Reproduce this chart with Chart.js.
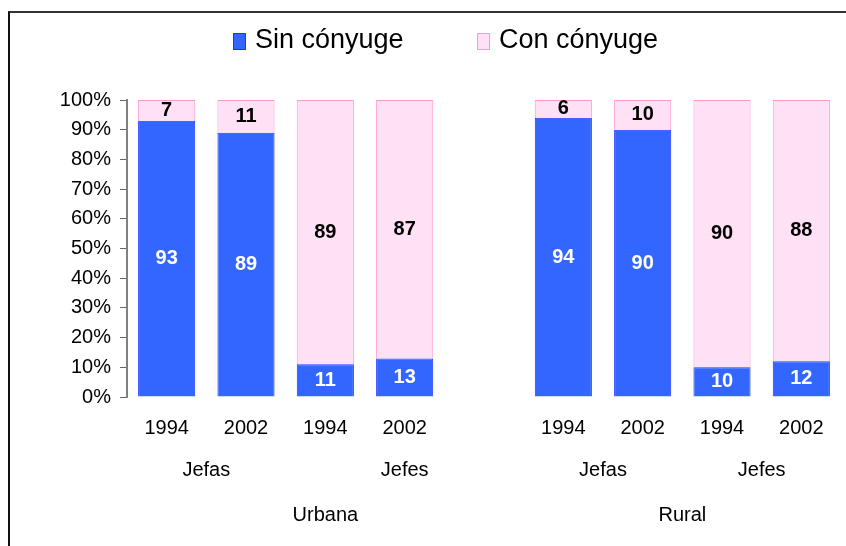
<!DOCTYPE html>
<html>
<head>
<meta charset="utf-8">
<script src="https://cdn.jsdelivr.net/npm/chart.js@4.4.1/dist/chart.umd.min.js"></script>
<style>
  html, body { margin: 0; padding: 0; background: #fff; overflow: hidden; }
  #wrap { position: relative; width: 846px; height: 546px; }
  #frame { position: absolute; left: 8px; top: 11px; width: 900px; height: 600px;
           border-top: 2px solid #333; border-left: 2px solid #111; }
  #myChart { position: absolute; left: 0; top: 0; }
</style>
</head>
<body>
<div id="wrap">
  <div id="frame"></div>
  <canvas id="myChart" width="846" height="546"></canvas>
</div>
<script>
// years per bar, empty slot splits Urbana / Rural
var years = ['1994', '2002', '1994', '2002', '', '1994', '2002', '1994', '2002'];
var sinConyuge = [93, 89, 11, 13, null, 94, 90, 10, 12];
var conConyuge = [7, 11, 89, 87, null, 6, 10, 90, 88];
var yTicks = [0, 10, 20, 30, 40, 50, 60, 70, 80, 90, 100];
var seriesNames = ['Sin cónyuge', 'Con cónyuge'];
// second and third label rows (category indexes they sit under)
var sexLabels = ['Jefas', 'Jefes', 'Jefas', 'Jefes'];
var sexAt = [[0, 1], [3, 3], [5, 6], [7, 8]];
var areaLabels = ['Urbana', 'Rural'];
var areaAt = [[2, 2], [6, 7]];

var FONT = "'Liberation Sans', Arial, sans-serif";
Chart.defaults.font.family = FONT;
Chart.defaults.color = '#000';

var valueLabels = {
  id: 'valueLabels',
  afterDatasetsDraw: function(chart) {
    var ctx = chart.ctx;
    ctx.save();
    ctx.font = 'bold 20px ' + FONT;
    ctx.textAlign = 'center';
    ctx.textBaseline = 'middle';
    chart.data.datasets.forEach(function(ds, di) {
      var meta = chart.getDatasetMeta(di);
      meta.data.forEach(function(bar, i) {
        var v = ds.data[i];
        if (v == null) return;
        ctx.fillStyle = di === 0 ? '#fff' : '#000';
        ctx.fillText(String(v), bar.x, (bar.y + bar.base) / 2);
      });
    });
    ctx.restore();
  }
};

var groupLabels = {
  id: 'groupLabels',
  afterDraw: function(chart) {
    var ctx = chart.ctx;
    var xs = chart.scales.x;
    ctx.save();
    ctx.font = '20px ' + FONT;
    ctx.fillStyle = '#000';
    ctx.textAlign = 'center';
    ctx.textBaseline = 'middle';
    sexLabels.forEach(function(t, k) {
      var x = (xs.getPixelForValue(sexAt[k][0]) + xs.getPixelForValue(sexAt[k][1])) / 2;
      ctx.fillText(t, x, 470);
    });
    areaLabels.forEach(function(t, k) {
      var x = (xs.getPixelForValue(areaAt[k][0]) + xs.getPixelForValue(areaAt[k][1])) / 2;
      ctx.fillText(t, x, 515);
    });
    ctx.restore();
  }
};

var topLegend = {
  id: 'topLegend',
  afterDraw: function(chart) {
    var ctx = chart.ctx;
    var spots = [233, 477];
    ctx.save();
    ctx.font = '27px ' + FONT;
    ctx.textBaseline = 'middle';
    ctx.textAlign = 'left';
    chart.data.datasets.forEach(function(ds, i) {
      var x = spots[i];
      ctx.fillStyle = ds.backgroundColor;
      ctx.fillRect(x, 33, 13, 17);
      ctx.strokeStyle = ds.borderColor;
      ctx.lineWidth = 1;
      ctx.strokeRect(x + 0.5, 33.5, 12, 16);
      ctx.fillStyle = '#000';
      ctx.fillText(ds.label, x + 22, 41);
    });
    ctx.restore();
  }
};

var ctx = document.getElementById('myChart').getContext('2d');
var chart = new Chart(ctx, {
  type: 'bar',
  data: {
    labels: years,
    datasets: [{
      label: seriesNames[0],
      data: sinConyuge,
      backgroundColor: '#3366FF',
      borderColor: '#1a33ff',
      borderWidth: 1
    }, {
      label: seriesNames[1],
      data: conConyuge,
      backgroundColor: '#FFE1F6',
      borderColor: '#FF99CC',
      borderWidth: 1
    }]
  },
  options: {
    responsive: false,
    animation: false,
    layout: { padding: { top: 100, left: 0, right: 5, bottom: 0 } },
    datasets: { bar: { categoryPercentage: 1, barPercentage: 0.72 } },
    plugins: {
      legend: { display: false },
      tooltip: { enabled: false }
    },
    scales: {
      x: {
        stacked: true,
        grid: { display: false },
        border: { display: false },
        ticks: { font: { size: 20 }, color: '#000', padding: 11, maxRotation: 0, autoSkip: false },
        afterFit: function(s) { s.height = 149; }
      },
      y: {
        stacked: true,
        min: 0,
        max: 100,
        afterBuildTicks: function(s) { s.ticks = yTicks.map(function(v) { return { value: v }; }); },
        ticks: {
          font: { size: 20 },
          color: '#000',
          padding: 9,
          callback: function(v) { return v + '%'; }
        },
        grid: { drawOnChartArea: false, drawTicks: true, tickLength: 7, color: '#666' },
        border: { color: '#808080', width: 2 },
        afterFit: function(s) { s.width = 127; }
      }
    }
  },
  plugins: [valueLabels, groupLabels, topLegend]
});
</script>
</body>
</html>
